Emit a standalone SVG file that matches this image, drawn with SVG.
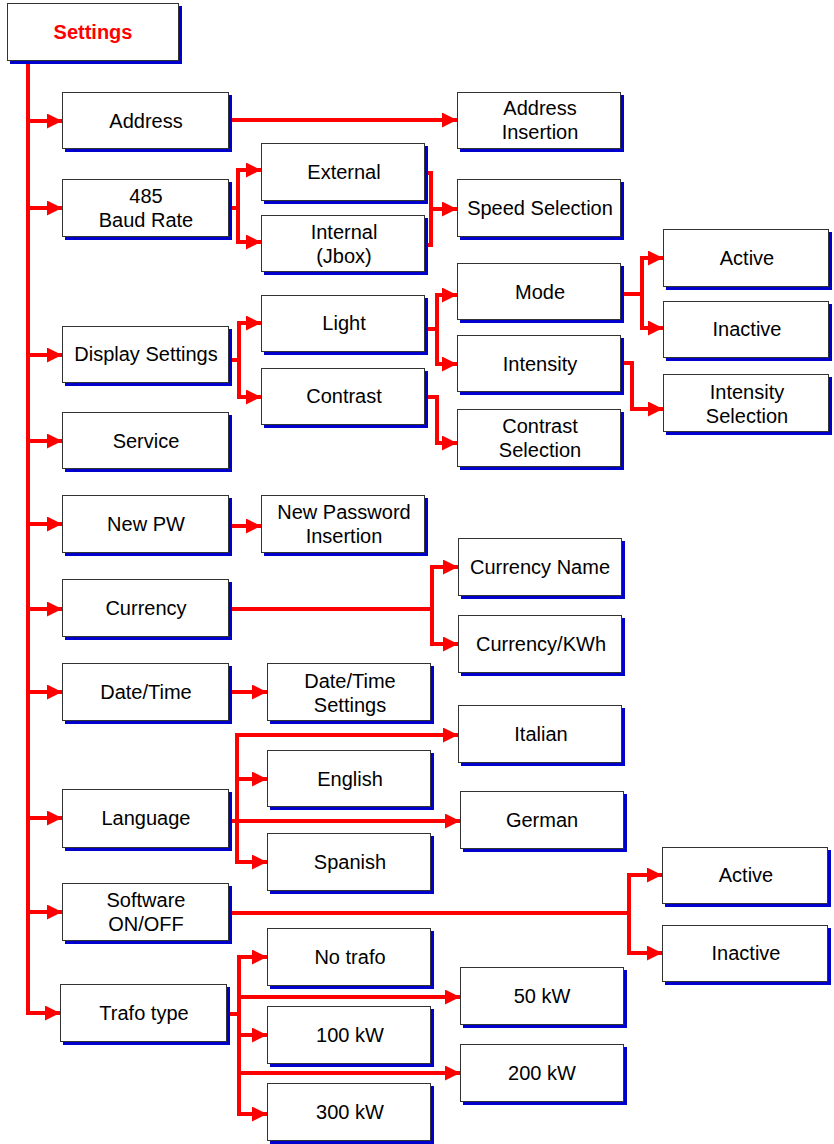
<svg xmlns="http://www.w3.org/2000/svg" width="834" height="1144" viewBox="0 0 834 1144">
<style>
.sh{fill:#0000cc}
.bx{fill:#fff;stroke:#333;stroke-width:1}
.t{font-family:"Liberation Sans",Arial,sans-serif;font-size:20px;fill:#000;text-anchor:middle}
.title{font-family:"Liberation Sans",Arial,sans-serif;font-size:20px;font-weight:bold;fill:#ff0000;text-anchor:middle}
.c{fill:none;stroke:#ff0000;stroke-width:4}
.a{fill:none;stroke:#ff0000;stroke-width:4;marker-end:url(#ah)}
</style>
<defs>
<marker id="ah" markerUnits="userSpaceOnUse" markerWidth="15" markerHeight="15" refX="15" refY="7.5" orient="auto">
<path d="M0,0 L15,7.5 L0,15 z" fill="#ff0000"/>
</marker>
</defs>
<rect width="834" height="1144" fill="#fff"/>
<g id="connectors">
<path class="c" d="M28,61 V1013"/>
<path class="a" d="M26,1013 H60"/>
<path class="a" d="M28,121 H62"/>
<path class="a" d="M28,208 H62"/>
<path class="a" d="M28,355 H62"/>
<path class="a" d="M28,441 H62"/>
<path class="a" d="M28,524 H62"/>
<path class="a" d="M28,609 H62"/>
<path class="a" d="M28,692 H62"/>
<path class="a" d="M28,818 H62"/>
<path class="a" d="M28,912 H62"/>
<path class="a" d="M229,120 H457"/>
<path class="c" d="M229,208 H238 M238,168 V244"/>
<path class="a" d="M236,170 H261"/>
<path class="a" d="M236,242 H261"/>
<path class="c" d="M425,173 H431 V245 H425"/>
<path class="a" d="M431,209 H457"/>
<path class="c" d="M229,360 H239 M239,321 V399"/>
<path class="a" d="M237,323 H261"/>
<path class="a" d="M237,397 H261"/>
<path class="c" d="M425,329 H437 M437,293 V366"/>
<path class="a" d="M435,295 H457"/>
<path class="a" d="M435,364 H457"/>
<path class="c" d="M425,397 H437 V443"/>
<path class="a" d="M435,443 H457"/>
<path class="c" d="M621,294 H642 M642,256 V330"/>
<path class="a" d="M640,258 H663"/>
<path class="a" d="M640,328 H663"/>
<path class="c" d="M621,363 H632 V409"/>
<path class="a" d="M630,409 H663"/>
<path class="a" d="M229,526 H261"/>
<path class="c" d="M229,609 H432 M432,565 V646"/>
<path class="a" d="M430,567 H458"/>
<path class="a" d="M430,644 H458"/>
<path class="a" d="M229,692 H267"/>
<path class="a" d="M229,821 H460"/>
<path class="c" d="M237,733 V864"/>
<path class="a" d="M235,735 H458"/>
<path class="a" d="M235,779 H267"/>
<path class="a" d="M235,862 H267"/>
<path class="c" d="M229,913 H629 M629,873 V955"/>
<path class="a" d="M627,875 H662"/>
<path class="a" d="M627,953 H662"/>
<path class="c" d="M227,1014 H239 M239,955 V1116"/>
<path class="a" d="M237,957 H267"/>
<path class="a" d="M237,997 H460"/>
<path class="a" d="M237,1035 H267"/>
<path class="a" d="M237,1073 H460"/>
<path class="a" d="M237,1114 H267"/>
</g>
<g id="settings"><rect class="sh" x="10" y="6" width="172" height="58"/><rect class="bx" x="7.5" y="3.5" width="171" height="57"/><text class="title" x="93" y="39">Settings</text></g>
<g id="address"><rect class="sh" x="65" y="95" width="167" height="57"/><rect class="bx" x="62.5" y="92.5" width="166" height="56"/><text class="t" x="146" y="128">Address</text></g>
<g id="baud"><rect class="sh" x="65" y="182" width="167" height="58"/><rect class="bx" x="62.5" y="179.5" width="166" height="57"/><text class="t" x="146" y="203">485</text><text class="t" x="146" y="227">Baud Rate</text></g>
<g id="display"><rect class="sh" x="65" y="329" width="167" height="57"/><rect class="bx" x="62.5" y="326.5" width="166" height="56"/><text class="t" x="146" y="361">Display Settings</text></g>
<g id="service"><rect class="sh" x="65" y="415" width="167" height="57"/><rect class="bx" x="62.5" y="412.5" width="166" height="56"/><text class="t" x="146" y="448">Service</text></g>
<g id="newpw"><rect class="sh" x="65" y="498" width="167" height="58"/><rect class="bx" x="62.5" y="495.5" width="166" height="57"/><text class="t" x="146" y="531">New PW</text></g>
<g id="currency"><rect class="sh" x="65" y="582" width="167" height="58"/><rect class="bx" x="62.5" y="579.5" width="166" height="57"/><text class="t" x="146" y="615">Currency</text></g>
<g id="datetime"><rect class="sh" x="65" y="666" width="167" height="58"/><rect class="bx" x="62.5" y="663.5" width="166" height="57"/><text class="t" x="146" y="699">Date/Time</text></g>
<g id="language"><rect class="sh" x="65" y="792" width="167" height="59"/><rect class="bx" x="62.5" y="789.5" width="166" height="58"/><text class="t" x="146" y="825">Language</text></g>
<g id="software"><rect class="sh" x="65" y="886" width="167" height="58"/><rect class="bx" x="62.5" y="883.5" width="166" height="57"/><text class="t" x="146" y="907">Software</text><text class="t" x="146" y="931">ON/OFF</text></g>
<g id="trafo"><rect class="sh" x="63" y="987" width="167" height="58"/><rect class="bx" x="60.5" y="984.5" width="166" height="57"/><text class="t" x="144" y="1020">Trafo type</text></g>
<g id="external"><rect class="sh" x="264" y="146" width="164" height="58"/><rect class="bx" x="261.5" y="143.5" width="163" height="57"/><text class="t" x="344" y="179">External</text></g>
<g id="internal"><rect class="sh" x="264" y="218" width="164" height="57"/><rect class="bx" x="261.5" y="215.5" width="163" height="56"/><text class="t" x="344" y="239">Internal</text><text class="t" x="344" y="263">(Jbox)</text></g>
<g id="light"><rect class="sh" x="264" y="298" width="164" height="57"/><rect class="bx" x="261.5" y="295.5" width="163" height="56"/><text class="t" x="344" y="330">Light</text></g>
<g id="contrast"><rect class="sh" x="264" y="371" width="164" height="57"/><rect class="bx" x="261.5" y="368.5" width="163" height="56"/><text class="t" x="344" y="403">Contrast</text></g>
<g id="newpwins"><rect class="sh" x="264" y="498" width="164" height="58"/><rect class="bx" x="261.5" y="495.5" width="163" height="57"/><text class="t" x="344" y="519">New Password</text><text class="t" x="344" y="543">Insertion</text></g>
<g id="datetimeset"><rect class="sh" x="270" y="666" width="164" height="58"/><rect class="bx" x="267.5" y="663.5" width="163" height="57"/><text class="t" x="350" y="688">Date/Time</text><text class="t" x="350" y="712">Settings</text></g>
<g id="english"><rect class="sh" x="270" y="753" width="164" height="57"/><rect class="bx" x="267.5" y="750.5" width="163" height="56"/><text class="t" x="350" y="786">English</text></g>
<g id="spanish"><rect class="sh" x="270" y="836" width="164" height="58"/><rect class="bx" x="267.5" y="833.5" width="163" height="57"/><text class="t" x="350" y="869">Spanish</text></g>
<g id="notrafo"><rect class="sh" x="270" y="931" width="164" height="58"/><rect class="bx" x="267.5" y="928.5" width="163" height="57"/><text class="t" x="350" y="964">No trafo</text></g>
<g id="kw100"><rect class="sh" x="270" y="1009" width="164" height="58"/><rect class="bx" x="267.5" y="1006.5" width="163" height="57"/><text class="t" x="350" y="1042">100 kW</text></g>
<g id="kw300"><rect class="sh" x="270" y="1086" width="164" height="58"/><rect class="bx" x="267.5" y="1083.5" width="163" height="57"/><text class="t" x="350" y="1119">300 kW</text></g>
<g id="addrins"><rect class="sh" x="460" y="95" width="164" height="57"/><rect class="bx" x="457.5" y="92.5" width="163" height="56"/><text class="t" x="540" y="115">Address</text><text class="t" x="540" y="139">Insertion</text></g>
<g id="speed"><rect class="sh" x="460" y="182" width="164" height="58"/><rect class="bx" x="457.5" y="179.5" width="163" height="57"/><text class="t" x="540" y="215">Speed Selection</text></g>
<g id="mode"><rect class="sh" x="460" y="266" width="164" height="57"/><rect class="bx" x="457.5" y="263.5" width="163" height="56"/><text class="t" x="540" y="299">Mode</text></g>
<g id="intensity"><rect class="sh" x="460" y="338" width="164" height="57"/><rect class="bx" x="457.5" y="335.5" width="163" height="56"/><text class="t" x="540" y="371">Intensity</text></g>
<g id="contrastsel"><rect class="sh" x="460" y="412" width="164" height="58"/><rect class="bx" x="457.5" y="409.5" width="163" height="57"/><text class="t" x="540" y="433">Contrast</text><text class="t" x="540" y="457">Selection</text></g>
<g id="curname"><rect class="sh" x="461" y="541" width="164" height="58"/><rect class="bx" x="458.5" y="538.5" width="163" height="57"/><text class="t" x="540" y="574">Currency Name</text></g>
<g id="curkwh"><rect class="sh" x="461" y="618" width="164" height="58"/><rect class="bx" x="458.5" y="615.5" width="163" height="57"/><text class="t" x="541" y="651">Currency/KWh</text></g>
<g id="italian"><rect class="sh" x="461" y="708" width="164" height="58"/><rect class="bx" x="458.5" y="705.5" width="163" height="57"/><text class="t" x="541" y="741">Italian</text></g>
<g id="german"><rect class="sh" x="463" y="794" width="164" height="58"/><rect class="bx" x="460.5" y="791.5" width="163" height="57"/><text class="t" x="542" y="827">German</text></g>
<g id="kw50"><rect class="sh" x="463" y="970" width="164" height="58"/><rect class="bx" x="460.5" y="967.5" width="163" height="57"/><text class="t" x="542" y="1003">50 kW</text></g>
<g id="kw200"><rect class="sh" x="463" y="1047" width="164" height="58"/><rect class="bx" x="460.5" y="1044.5" width="163" height="57"/><text class="t" x="542" y="1080">200 kW</text></g>
<g id="active1"><rect class="sh" x="666" y="232" width="166" height="58"/><rect class="bx" x="663.5" y="229.5" width="165" height="57"/><text class="t" x="747" y="265">Active</text></g>
<g id="inactive1"><rect class="sh" x="666" y="304" width="166" height="57"/><rect class="bx" x="663.5" y="301.5" width="165" height="56"/><text class="t" x="747" y="336">Inactive</text></g>
<g id="intsel"><rect class="sh" x="666" y="377" width="166" height="58"/><rect class="bx" x="663.5" y="374.5" width="165" height="57"/><text class="t" x="747" y="399">Intensity</text><text class="t" x="747" y="423">Selection</text></g>
<g id="active2"><rect class="sh" x="665" y="850" width="166" height="57"/><rect class="bx" x="662.5" y="847.5" width="165" height="56"/><text class="t" x="746" y="882">Active</text></g>
<g id="inactive2"><rect class="sh" x="665" y="928" width="166" height="57"/><rect class="bx" x="662.5" y="925.5" width="165" height="56"/><text class="t" x="746" y="960">Inactive</text></g>
</svg>
